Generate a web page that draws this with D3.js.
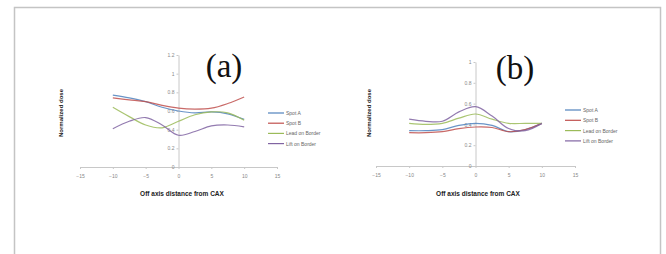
<!DOCTYPE html>
<html>
<head>
<meta charset="utf-8">
<script src="https://cdn.jsdelivr.net/npm/d3@7"></script>
<style>
  body { margin: 0; background: #fff; }
  svg { display: block; }
</style>
</head>
<body>
<div id="chart"></div>
<script>
// off-axis positions (cm) where dose was read
const xValues = [-10, -7.5, -5, -2.5, 0, 2.5, 5, 7.5, 10];
const seriesNames = ["Spot A", "Spot B", "Lead on Border", "Lift on Border"];
const seriesColors = ["#4F81BD", "#C0504D", "#9BBB59", "#8064A2"];

// panel (a)
const spotA_a = [0.77, 0.74, 0.70, 0.64, 0.60, 0.58, 0.59, 0.57, 0.51];
const spotB_a = [0.74, 0.72, 0.70, 0.66, 0.63, 0.62, 0.63, 0.68, 0.75];
const lead_a  = [0.64, 0.54, 0.45, 0.42, 0.49, 0.56, 0.59, 0.58, 0.50];
const lift_a  = [0.41, 0.49, 0.53, 0.45, 0.34, 0.38, 0.44, 0.45, 0.43];

// panel (b)
const spotA_b = [0.34, 0.34, 0.35, 0.39, 0.41, 0.39, 0.33, 0.35, 0.41];
const spotB_b = [0.32, 0.32, 0.33, 0.36, 0.375, 0.37, 0.33, 0.35, 0.41];
const lead_b  = [0.41, 0.40, 0.41, 0.46, 0.50, 0.45, 0.41, 0.41, 0.41];
const lift_b  = [0.45, 0.43, 0.43, 0.52, 0.57, 0.48, 0.36, 0.34, 0.41];

const xTicks = [-15, -10, -5, 0, 5, 10, 15];
const yTicksA = [0, 0.2, 0.4, 0.6, 0.8, 1, 1.2];
const yTicksB = [0, 0.2, 0.4, 0.6, 0.8, 1];

const svg = d3.select("#chart")
    .append("svg")
    .attr("width", 666)
    .attr("height", 254)
    .style("font-family", "'Liberation Sans', Arial, sans-serif");

// chart area border
svg.append("rect")
    .attr("x", 14.5).attr("y", 7.5)
    .attr("width", 646).attr("height", 270)
    .attr("fill", "none")
    .attr("stroke", "#c4c4c4")
    .attr("stroke-width", 1.5);

function drawPanel(cfg) {
    const g = svg.append("g");
    const x = d3.scaleLinear().domain([-15, 15]).range(cfg.xRange);
    const y = d3.scaleLinear().domain([0, cfg.yMax]).range(cfg.yRange);

    // x axis crosses at y = 0
    const xAxis = g.append("g")
        .attr("transform", `translate(0,${y(0)})`)
        .call(d3.axisBottom(x).tickValues(xTicks).tickSize(2).tickSizeOuter(0).tickFormat(d3.format("d")));
    xAxis.select(".domain").attr("stroke", "#c8c8c8");
    xAxis.selectAll(".tick line").attr("stroke", "#c8c8c8");
    xAxis.selectAll(".tick text")
        .attr("y", 7)
        .attr("fill", "#888")
        .style("font-size", "5px");

    // y axis crosses at x = 0
    const yAxis = g.append("g")
        .attr("transform", `translate(${x(0)},0)`)
        .call(d3.axisLeft(y).tickValues(cfg.yTicks).tickSize(2).tickSizeOuter(0).tickFormat(d => d));
    yAxis.select(".domain").attr("stroke", "#c8c8c8");
    yAxis.selectAll(".tick line").attr("stroke", "#c8c8c8");
    yAxis.selectAll(".tick text")
        .attr("x", -4)
        .attr("fill", "#888")
        .style("font-size", "5px");

    const line = d3.line()
        .x((d, i) => x(xValues[i]))
        .y(d => y(d))
        .curve(d3.curveCatmullRom);

    g.selectAll("path.series")
        .data(cfg.series)
        .enter()
        .append("path")
        .attr("class", "series")
        .attr("d", d => line(d))
        .attr("fill", "none")
        .attr("stroke", (d, i) => seriesColors[i])
        .attr("stroke-width", 1.2)
        .attr("stroke-opacity", 0.85);

    // axis titles
    g.append("text")
        .attr("x", cfg.xTitle[0]).attr("y", cfg.xTitle[1])
        .attr("text-anchor", "middle")
        .style("font-size", "6.5px")
        .style("font-weight", "bold")
        .attr("fill", "#222")
        .text("Off axis distance from CAX");

    g.append("text")
        .attr("transform", `translate(${cfg.yTitle[0]},${cfg.yTitle[1]}) rotate(-90)`)
        .attr("text-anchor", "middle")
        .style("font-size", "6px")
        .style("font-weight", "bold")
        .attr("fill", "#222")
        .text("Normalized dose");

    // panel letter
    g.append("text")
        .attr("x", cfg.letterPos[0]).attr("y", cfg.letterPos[1])
        .attr("text-anchor", "middle")
        .style("font-family", "'Liberation Serif', 'Times New Roman', serif")
        .style("font-size", "33px")
        .attr("fill", "#111")
        .text(cfg.letter);

    // legend
    const leg = g.selectAll("g.leg")
        .data(seriesNames)
        .enter()
        .append("g")
        .attr("transform", (d, i) => `translate(${cfg.legend[0]},${cfg.legend[1] + i * cfg.legendStep})`);
    leg.append("line")
        .attr("x1", 0).attr("x2", 16)
        .attr("stroke", (d, i) => seriesColors[i])
        .attr("stroke-width", 1.2);
    leg.append("text")
        .attr("x", 18).attr("y", 2)
        .style("font-size", "5px")
        .attr("fill", "#666")
        .text(d => d);
}

drawPanel({
    letter: "(a)",
    xRange: [80, 277],
    yRange: [167, 55],
    yMax: 1.2,
    yTicks: yTicksA,
    series: [spotA_a, spotB_a, lead_a, lift_a],
    xTitle: [182, 196],
    yTitle: [63, 113],
    letterPos: [224, 77],
    legend: [268, 113],
    legendStep: 10.2
});

drawPanel({
    letter: "(b)",
    xRange: [376, 575],
    yRange: [166, 62],
    yMax: 1,
    yTicks: yTicksB,
    series: [spotA_b, spotB_b, lead_b, lift_b],
    xTitle: [478, 196],
    yTitle: [371, 113],
    letterPos: [515, 79],
    legend: [565, 110],
    legendStep: 10.3
});
</script>
</body>
</html>
